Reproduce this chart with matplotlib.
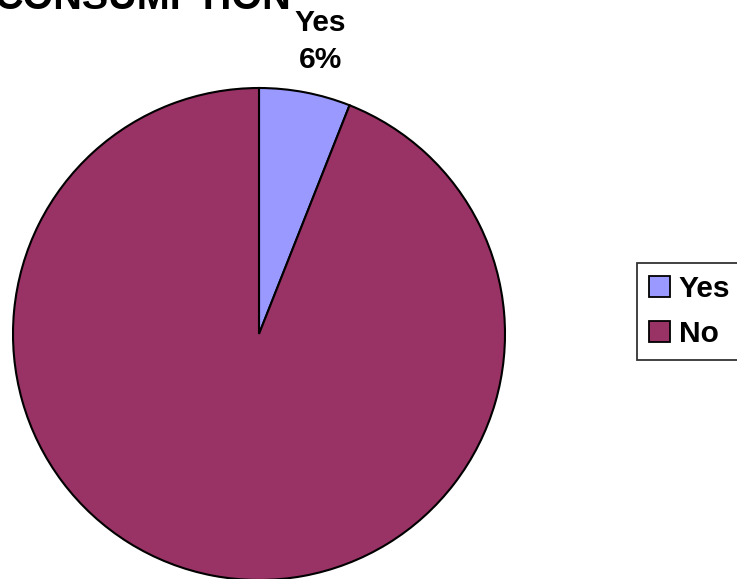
import matplotlib.pyplot as plt
from matplotlib.patches import Patch

labels = ['Yes', 'No']
values = [6, 94]
colors = ['#9999FF', '#993366']

plt.rcParams['font.family'] = ['Liberation Sans', 'DejaVu Sans']

fig = plt.figure(figsize=(7.37, 5.79), dpi=100)
ax = fig.add_axes([13 / 737, -1 / 579, 492 / 737, 492 / 579])
ax.pie(values, colors=colors, startangle=90, counterclock=False,
       wedgeprops=dict(edgecolor='black', linewidth=1.5))
ax.set_xlim(-1, 1)
ax.set_ylim(-1, 1)
ax.set_aspect('equal')
ax.axis('off')

# data label for the small slice
ax.text(0.248, 1.23, labels[0], ha='center', va='baseline',
        fontsize=21.5, fontweight='bold', clip_on=False)
ax.text(0.248, 1.083, str(values[0]) + '%', ha='center', va='baseline',
        fontsize=21.5, fontweight='bold', clip_on=False)

# title, cut off at the top of the image
fig.text(291 / 737, 0.985, 'CONSUMPTION', fontsize=28.5, fontweight='bold', ha='right', va='baseline')

handles = [Patch(facecolor=c, edgecolor='black', linewidth=1.3) for c in colors]
leg = fig.legend(handles, labels, loc='upper left', bbox_to_anchor=(637 / 737, 1 - 263 / 579),
                 frameon=True, fancybox=False, edgecolor='black',
                 prop=dict(weight='bold', size=21.5), handlelength=0.7, handleheight=0.7,
                 handletextpad=0.3, borderpad=0.4, labelspacing=0.58, borderaxespad=0)
leg.get_frame().set_linewidth(1.3)

fig.savefig('out.png', dpi=100)
